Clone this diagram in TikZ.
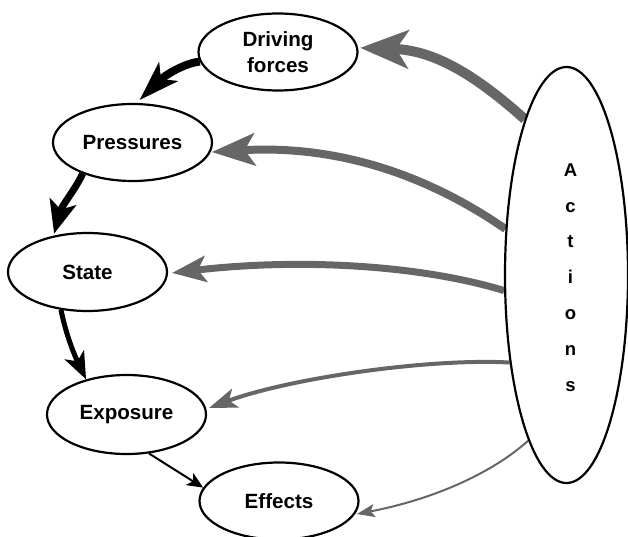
\documentclass[tikz,border=0pt]{standalone}
\usepackage{fontspec}
\setmainfont{Liberation Sans}
\usetikzlibrary{shapes.geometric,arrows.meta,backgrounds}
\definecolor{arrgray}{HTML}{666666}
\tikzset{
  blob/.style={ellipse, draw=black, line width=2.2pt, fill=white, inner sep=0pt,
    minimum width=159pt, minimum height=77pt, align=center,
    font=\fontsize{20.6}{26}\selectfont\bfseries},
  actblob/.style={ellipse, draw=black, line width=2.2pt, fill=white, inner sep=0pt,
    minimum width=123pt, minimum height=416pt},
  acttext/.style={align=center, inner sep=0pt,
    font=\fontsize{18.5}{35.8}\selectfont\bfseries},
  garrow/.style={draw=arrgray},
  karrow/.style={draw=black},
}
\begin{document}
\begin{tikzpicture}[x=1pt,y=-1pt]
\useasboundingbox (0,0) rectangle (628,537);
\node[blob] (drv) at (278,52) {Driving\\forces};
\node[blob] (prs) at (132.5,142.5) {Pressures};
\node[blob, minimum height=78pt] (st) at (87.5,272) {State};
\node[blob, minimum height=79pt] (exp) at (126.5,414.5) {Exposure};
\node[blob] (eff) at (279,501) {Effects};
\node[actblob] (act) at (566.5,275) {};
\node[acttext] (actlbl) at (570.5,277.5) {A\\c\\t\\i\\o\\n\\s};
\begin{scope}[on background layer]
  % black chain
  \draw[karrow, line width=8pt, -{Stealth[length=40pt,width=26pt,inset=10pt]}, shorten >=4pt]
    (drv.187) .. controls (185,63) and (165,75) .. (prs.84);
  \draw[karrow, line width=7pt, -{Stealth[length=33pt,width=27pt,inset=8pt]}, shorten >=2pt]
    (prs.212) .. controls (75,190) and (62,205) .. (st.133);
  \draw[karrow, line width=5pt, -{Stealth[length=27pt,width=21pt,inset=7pt]}]
    (st.235) .. controls (65,330) and (72,350) .. (exp.139);
  \draw[karrow, line width=2pt, -{Stealth[length=16pt,width=14pt,inset=4pt]}]
    (exp.-60) -- (eff.170);
  % gray arrows from Actions
  \draw[garrow, line width=10pt, -{Stealth[length=48pt,width=38pt,inset=12pt]}, shorten >=2pt]
    (act.105) .. controls (470,70) and (430,50) .. (drv.3);
  \draw[garrow, line width=8pt, -{Stealth[length=43pt,width=32pt,inset=10pt]}, shorten >=1pt]
    (act.143) .. controls (420,170) and (330,145) .. (prs.-7);
  \draw[garrow, line width=7pt, -{Stealth[length=34pt,width=26pt,inset=8pt]}, shorten >=4pt]
    (act.194) .. controls (420,265) and (300,258) .. (st.-1);
  \draw[garrow, line width=4pt, -{Stealth[length=28pt,width=20pt,inset=7pt]}, shorten >=3pt]
    (act.237) .. controls (430,358) and (290,378) .. (exp.4);
  \draw[garrow, line width=2pt, -{Stealth[length=18pt,width=13pt,inset=4pt]}, shorten >=2pt]
    (act.257) .. controls (490,475) and (430,500) .. (eff.-10);
\end{scope}
\end{tikzpicture}
\end{document}
